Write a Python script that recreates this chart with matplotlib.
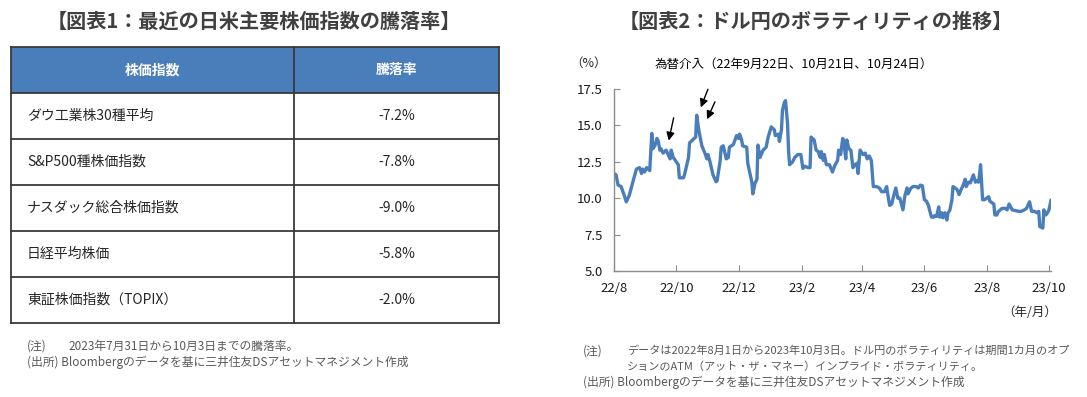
import matplotlib
matplotlib.use("Agg")
import matplotlib.pyplot as plt
from matplotlib.patches import Rectangle
import pandas as pd

plt.rcParams['font.family'] = ['Noto Sans CJK JP', 'DejaVu Sans']

# table data
index_names = ["ダウ工業株30種平均", "S&P500種株価指数", "ナスダック総合株価指数", "日経平均株価", "東証株価指数（TOPIX）"]
changes = [-7.2, -7.8, -9.0, -5.8, -2.0]
table_header = ["株価指数", "騰落率"]

# USD/JPY 1M ATM implied vol, days from 2022-08-01
vol_days = [0, 2, 4, 7, 10, 12, 15, 19, 22, 25, 27, 28, 30, 32, 35, 37, 38, 40, 42, 43,
            45, 46, 48, 51, 53, 55, 56, 58, 60, 63, 64, 68, 69, 73, 74, 77, 80, 81, 83, 86,
            89, 91, 92, 94, 97, 100, 101, 104, 105, 107, 110, 112, 113, 117, 120, 122, 123, 125, 126, 130,
            131, 135, 136, 138, 140, 141, 143, 146, 149, 151, 154, 157, 158, 161, 162, 164, 165, 167, 168, 170,
            171, 172, 175, 177, 180, 183, 185, 187, 190, 192, 193, 196, 198, 200, 202, 203, 205, 206, 208, 211,
            214, 216, 219, 220, 222, 224, 225, 227, 228, 230, 232, 234, 236, 238, 239, 241, 242, 244, 246, 248,
            250, 252, 254, 257, 260, 262, 265, 267, 269, 270, 272, 274, 276, 278, 280, 283, 285, 287, 288, 290,
            291, 293, 296, 298, 300, 302, 304, 306, 308, 309, 311, 313, 314, 316, 318, 319, 321, 322, 324, 326,
            327, 329, 331, 332, 334, 336, 338, 340, 342, 344, 345, 347, 349, 350, 352, 354, 355, 357, 358, 359,
            361, 363, 365, 367, 368, 370, 372, 373, 375, 376, 380, 383, 385, 387, 390, 393, 396, 399, 402, 404,
            407, 409, 412, 414, 416, 417, 420, 421, 423, 425, 426, 428]
vol_values = [11.7, 11.6, 10.9, 10.8, 10.2, 9.75, 10.2, 11.25, 12.0, 12.1, 11.7, 12.0, 11.8, 12.1, 11.9, 14.45, 13.4, 13.6, 14.1, 14.0,
              13.3, 13.4, 13.1, 13.3, 13.0, 12.7, 13.3, 12.8, 12.6, 12.3, 11.4, 11.4, 11.6, 12.8, 13.8, 14.0, 14.2, 15.7, 14.7, 13.6,
              13.1, 12.7, 13.0, 12.5, 11.6, 11.13, 11.2, 12.6, 13.5, 13.6, 12.7, 12.8, 13.5, 13.7, 14.3, 14.1, 14.4, 14.0, 13.6, 13.5,
              12.4, 11.1, 10.3, 11.0, 11.3, 13.65, 12.8, 13.3, 13.5, 14.2, 14.9, 14.7, 14.3, 14.4, 13.9, 14.7, 16.05, 16.6, 16.7, 15.1,
              13.2, 12.3, 12.5, 12.8, 13.0, 13.0, 12.05, 12.2, 12.1, 12.1, 14.2, 14.0, 13.3, 13.2, 12.8, 13.2, 12.6, 13.0, 12.3, 12.3,
              11.8, 12.2, 12.6, 13.3, 13.0, 14.1, 13.9, 12.7, 14.0, 13.4, 13.3, 12.1, 12.3, 12.4, 11.7, 13.3, 13.2, 13.0, 13.1, 12.7,
              12.9, 12.6, 10.8, 10.8, 10.7, 10.45, 10.45, 10.8, 9.9, 9.5, 9.6, 10.2, 10.7, 10.0, 10.0, 9.2, 10.2, 10.7, 10.3, 10.6,
              10.7, 10.8, 10.8, 10.7, 10.9, 10.85, 9.9, 9.8, 9.5, 9.2, 8.7, 8.7, 8.8, 8.75, 9.4, 8.7, 9.0, 8.65, 9.0, 8.5,
              8.95, 9.2, 9.9, 10.8, 10.7, 10.6, 10.25, 10.6, 10.9, 11.3, 10.8, 11.1, 11.05, 11.25, 11.6, 11.1, 11.2, 11.1, 11.6, 12.3,
              9.9, 9.9, 10.0, 10.1, 9.8, 9.7, 9.6, 8.85, 8.85, 9.05, 9.3, 9.3, 9.2, 9.6, 9.2, 9.15, 9.1, 9.1, 9.2, 9.3,
              9.75, 9.1, 9.1, 9.0, 9.1, 8.05, 7.95, 9.2, 8.85, 9.05, 9.2, 9.85]

tick_months = ["2022-08-01", "2022-10-01", "2022-12-01", "2023-02-01", "2023-04-01",
               "2023-06-01", "2023-08-01", "2023-10-01"]
tick_labels = ["22/8", "22/10", "22/12", "23/2", "23/4", "23/6", "23/8", "23/10"]

start = pd.Timestamp("2022-08-01")
dates = start + pd.to_timedelta(vol_days, unit="D")

fig = plt.figure(figsize=(10.87, 3.97), dpi=100)

# background axes in pixel coords for table + texts
bg = fig.add_axes([0, 0, 1, 1])
bg.set_xlim(0, 1087)
bg.set_ylim(397, 0)
bg.axis("off")

title_col = "#404040"
note_col = "#595959"
blue = "#4A7EBB"

bg.text(254, 21, "【図表1：最近の日米主要株価指数の騰落率】", ha="center", va="center",
        fontsize=14.5, fontweight="bold", color=title_col)
bg.text(816, 21, "【図表2：ドル円のボラティリティの推移】", ha="center", va="center",
        fontsize=14.5, fontweight="bold", color=title_col)

# table
tx0, tx1, tdiv = 11, 499, 294
ty0, row_h = 47, 46
bg.add_patch(Rectangle((tx0, ty0), tx1 - tx0, row_h, facecolor=blue, edgecolor="none"))
bg.text((tx0 + tdiv) / 2, ty0 + row_h / 2, table_header[0], ha="center", va="center",
        fontsize=10, fontweight="bold", color="white")
bg.text((tdiv + tx1) / 2, ty0 + row_h / 2, table_header[1], ha="center", va="center",
        fontsize=10, fontweight="bold", color="white")
n = len(index_names)
for i, (name, ch) in enumerate(zip(index_names, changes)):
    yc = ty0 + row_h * (i + 1) + row_h / 2
    bg.text(27, yc, name, ha="left", va="center", fontsize=10, color="#262626")
    bg.text((tdiv + tx1) / 2, yc, f"{ch:.1f}%", ha="center", va="center", fontsize=10, color="#262626")
line_kw = dict(color="#3a3a3a", lw=1.3)
for i in range(n + 2):
    yy = ty0 + row_h * i
    bg.plot([tx0, tx1], [yy, yy], **line_kw)
ybot = ty0 + row_h * (n + 1)
for xx in (tx0, tdiv, tx1):
    bg.plot([xx, xx], [ty0, ybot], **line_kw)

bg.text(27, 346, "(注)", ha="left", va="center", fontsize=8.5, color=note_col)
bg.text(68, 346, "2023年7月31日から10月3日までの騰落率。", ha="left", va="center", fontsize=8.5, color=note_col)
bg.text(27, 362, "(出所) Bloombergのデータを基に三井住友DSアセットマネジメント作成", ha="left", va="center",
        fontsize=8.5, color=note_col)

bg.text(583, 351, "(注)", ha="left", va="center", fontsize=8.5, color=note_col)
bg.text(627, 351, "データは2022年8月1日から2023年10月3日。ドル円のボラティリティは期間1カ月のオプ",
        ha="left", va="center", fontsize=8, color=note_col)
bg.text(627, 367, "ションのATM（アット・ザ・マネー）インプライド・ボラティリティ。",
        ha="left", va="center", fontsize=8, color=note_col)
bg.text(583, 382, "(出所) Bloombergのデータを基に三井住友DSアセットマネジメント作成", ha="left", va="center",
        fontsize=8.5, color=note_col)

bg.text(589, 63, "（%）", ha="center", va="center", fontsize=9, color="#262626")
bg.text(655, 64, "為替介入（22年9月22日、10月21日、10月24日）", ha="left", va="center",
        fontsize=9, color="black")
bg.text(1057, 312, "（年/月）", ha="right", va="center", fontsize=9, color="#262626")

# line chart
ax = fig.add_axes([614 / 1087, 1 - 271 / 397, (1051 - 614) / 1087, (271 - 89) / 397])
ax.patch.set_alpha(0)
ax.plot(dates, vol_values, color=blue, lw=2.4, solid_joinstyle="round")
ax.set_xlim(start, pd.Timestamp("2023-10-03"))
ax.set_ylim(5, 17.5)
ax.set_yticks([5, 7.5, 10, 12.5, 15, 17.5])
ax.set_yticklabels([f"{v:.1f}" for v in [5, 7.5, 10, 12.5, 15, 17.5]])
ax.set_xticks(pd.to_datetime(tick_months))
ax.set_xticklabels(tick_labels)
for s in ("top", "right"):
    ax.spines[s].set_visible(False)
for s in ("left", "bottom"):
    ax.spines[s].set_color("#8c8c8c")
    ax.spines[s].set_linewidth(1)
ax.tick_params(direction="in", length=4, color="#8c8c8c", labelsize=9.5, labelcolor="#1a1a1a", pad=8)

# intervention arrows (tail -> head), in data coords
arrow_heads = [("2022-09-23", 13.77), ("2022-10-24", 16.06), ("2022-10-30", 15.25)]
arrow_tails = [("2022-09-29", 15.71), ("2022-11-02", 17.66), ("2022-11-09", 16.79)]
for (hd, hv), (td, tv) in zip(arrow_heads, arrow_tails):
    ax.annotate("", xy=(pd.Timestamp(hd), hv), xytext=(pd.Timestamp(td), tv),
                arrowprops=dict(arrowstyle="-|>", color="black", lw=1, mutation_scale=12),
                annotation_clip=False)

fig.savefig("out.png", dpi=100)
